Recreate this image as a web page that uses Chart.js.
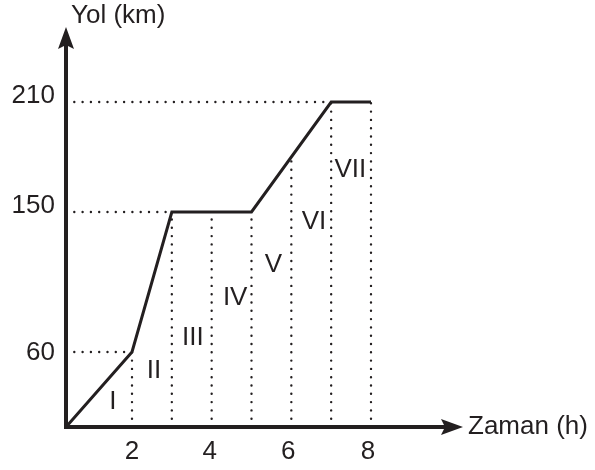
<!DOCTYPE html>
<html>
<head>
<meta charset="utf-8">
<script src="https://cdn.jsdelivr.net/npm/chart.js@4.4.1/dist/chart.umd.min.js"></script>
<style>
  body { margin: 0; background: #fff; }
  #wrap { width: 595px; height: 470px; }
</style>
</head>
<body>
<div id="wrap"><canvas id="myChart" width="595" height="470"></canvas></div>
<script>
// chart values
var hours = [0, 2, 3, 5, 7, 8];
var distance = [0, 60, 150, 150, 210, 210];
var xTicks = [2, 4, 6, 8];
var yTicks = [60, 150, 210];
var guideHours = [2, 3, 4, 5, 6, 7, 8];
var guideDistances = [60, 150, 210];
var periods = ['I', 'II', 'III', 'IV', 'V', 'VI', 'VII'];

var ink = '#231f20';
var font = '"Liberation Sans", Arial, sans-serif';

// distance on the graph at a given hour (only used for the end of the guide lines)
function distanceAt(h) {
    for (var i = 1; i < hours.length; i++) {
        if (h <= hours[i]) {
            var t = (h - hours[i - 1]) / (hours[i] - hours[i - 1]);
            return distance[i - 1] + t * (distance[i] - distance[i - 1]);
        }
    }
    return distance[distance.length - 1];
}
function hourAt(d) {
    for (var i = 1; i < distance.length; i++) {
        if (d <= distance[i]) {
            if (distance[i] === distance[i - 1]) return hours[i - 1];
            var t = (d - distance[i - 1]) / (distance[i] - distance[i - 1]);
            return hours[i - 1] + t * (hours[i] - hours[i - 1]);
        }
    }
    return hours[hours.length - 1];
}

// the drawing is not to scale, so the axes are piecewise linear
class WarpScale extends Chart.LinearScale {
    getPixelForValue(value) {
        var k = this.options.knots;
        var f = 0;
        for (var i = 1; i < k.length; i++) {
            if (value <= k[i][0] || i === k.length - 1) {
                var t = (value - k[i - 1][0]) / (k[i][0] - k[i - 1][0]);
                f = k[i - 1][1] + t * (k[i][1] - k[i - 1][1]);
                break;
            }
        }
        return this.getPixelForDecimal(f);
    }
    getValueForPixel(pixel) {
        var k = this.options.knots;
        var f = this.getDecimalForPixel(pixel);
        for (var i = 1; i < k.length; i++) {
            if (f <= k[i][1] || i === k.length - 1) {
                var t = (f - k[i - 1][1]) / (k[i][1] - k[i - 1][1]);
                return k[i - 1][0] + t * (k[i][0] - k[i - 1][0]);
            }
        }
    }
    // small nudges of single tick labels (grid lines are off)
    getPixelForTick(index) {
        var shift = this.options.labelShift || [];
        return super.getPixelForTick(index) + (shift[index] || 0);
    }
}
WarpScale.id = 'warp';
WarpScale.defaults = Chart.LinearScale.defaults;
Chart.register(WarpScale);

// axes with arrows, axis titles and the period numerals
var decorations = {
    id: 'decorations',
    afterDatasetsDraw: function (chart) {
        var c = chart.ctx, a = chart.chartArea;
        var xs = chart.scales.x, ys = chart.scales.y;
        c.save();
        c.strokeStyle = ink;
        c.fillStyle = ink;
        c.lineWidth = 4;
        c.lineCap = 'butt';
        c.beginPath();
        c.moveTo(a.left, a.bottom + 2);
        c.lineTo(a.left, a.top + 18);
        c.moveTo(a.left - 2, a.bottom);
        c.lineTo(a.right - 18, a.bottom);
        c.stroke();
        // arrow heads
        c.beginPath();
        c.moveTo(a.left, a.top);
        c.lineTo(a.left - 8, a.top + 22);
        c.lineTo(a.left, a.top + 18);
        c.lineTo(a.left + 8, a.top + 22);
        c.closePath();
        c.fill();
        c.beginPath();
        c.moveTo(a.right, a.bottom);
        c.lineTo(a.right - 22, a.bottom - 8);
        c.lineTo(a.right - 18, a.bottom);
        c.lineTo(a.right - 22, a.bottom + 8);
        c.closePath();
        c.fill();

        c.font = '26px ' + font;
        c.textBaseline = 'middle';
        c.textAlign = 'left';
        c.fillText('Yol (km)', a.left + 5, 16);
        c.fillText('Zaman (h)', a.right + 5, a.bottom);

        var spots = [[1.42, 20], [2.55, 45], [3.53, 69], [4.59, 95], [5.55, 116], [6.57, 144], [7.48, 173]];
        c.textAlign = 'center';
        periods.forEach(function (p, i) {
            c.fillText(p, xs.getPixelForValue(spots[i][0]), ys.getPixelForValue(spots[i][1]));
        });
        c.restore();
    }
};

var guides = [];
guideHours.forEach(function (h) {
    guides.push({ data: [{ x: h, y: 0 }, { x: h, y: distanceAt(h) }] });
});
guideDistances.forEach(function (d) {
    guides.push({ data: [{ x: 0, y: d }, { x: hourAt(d), y: d }] });
});
guides = guides.map(function (g) {
    return {
        data: g.data,
        borderColor: ink,
        borderWidth: 2.4,
        borderDash: [0, 8.3],
        borderCapStyle: 'round',
        pointRadius: 0,
        order: 2
    };
});

var ctx = document.getElementById('myChart').getContext('2d');
var myChart = new Chart(ctx, {
    type: 'line',
    data: {
        datasets: [{
            data: hours.map(function (h, i) { return { x: h, y: distance[i] }; }),
            borderColor: ink,
            borderWidth: 3,
            borderJoinStyle: 'miter',
            pointRadius: 0,
            tension: 0,
            order: 1
        }].concat(guides)
    },
    options: {
        responsive: false,
        animation: false,
        events: [],
        layout: { padding: { top: 27, right: 132, left: 0, bottom: 0 } },
        plugins: { legend: { display: false }, tooltip: { enabled: false } },
        scales: {
            x: {
                type: 'warp',
                min: 0,
                max: 10.31,
                knots: [[0, 0], [2, 66 / 397], [8, 305 / 397], [10.31, 1]],
                labelShift: [0, -2, -3, -3],
                afterBuildTicks: function (s) { s.ticks = xTicks.map(function (v) { return { value: v }; }); },
                afterFit: function (s) { s.height = 43; },
                grid: { display: false, drawTicks: false },
                border: { display: false },
                ticks: { color: ink, padding: 9, maxRotation: 0, autoSkip: false, font: { size: 26, family: font } }
            },
            y: {
                type: 'warp',
                min: 0,
                max: 251,
                knots: [[0, 0], [60, 75 / 400], [150, 215 / 400], [210, 325 / 400], [251, 1]],
                labelShift: [1, -6, -6],
                afterBuildTicks: function (s) { s.ticks = yTicks.map(function (v) { return { value: v }; }); },
                afterFit: function (s) { s.width = 66; },
                grid: { display: false, drawTicks: false },
                border: { display: false },
                ticks: { color: ink, padding: 11, autoSkip: false, font: { size: 26, family: font } }
            }
        }
    },
    plugins: [decorations]
});
</script>
</body>
</html>
